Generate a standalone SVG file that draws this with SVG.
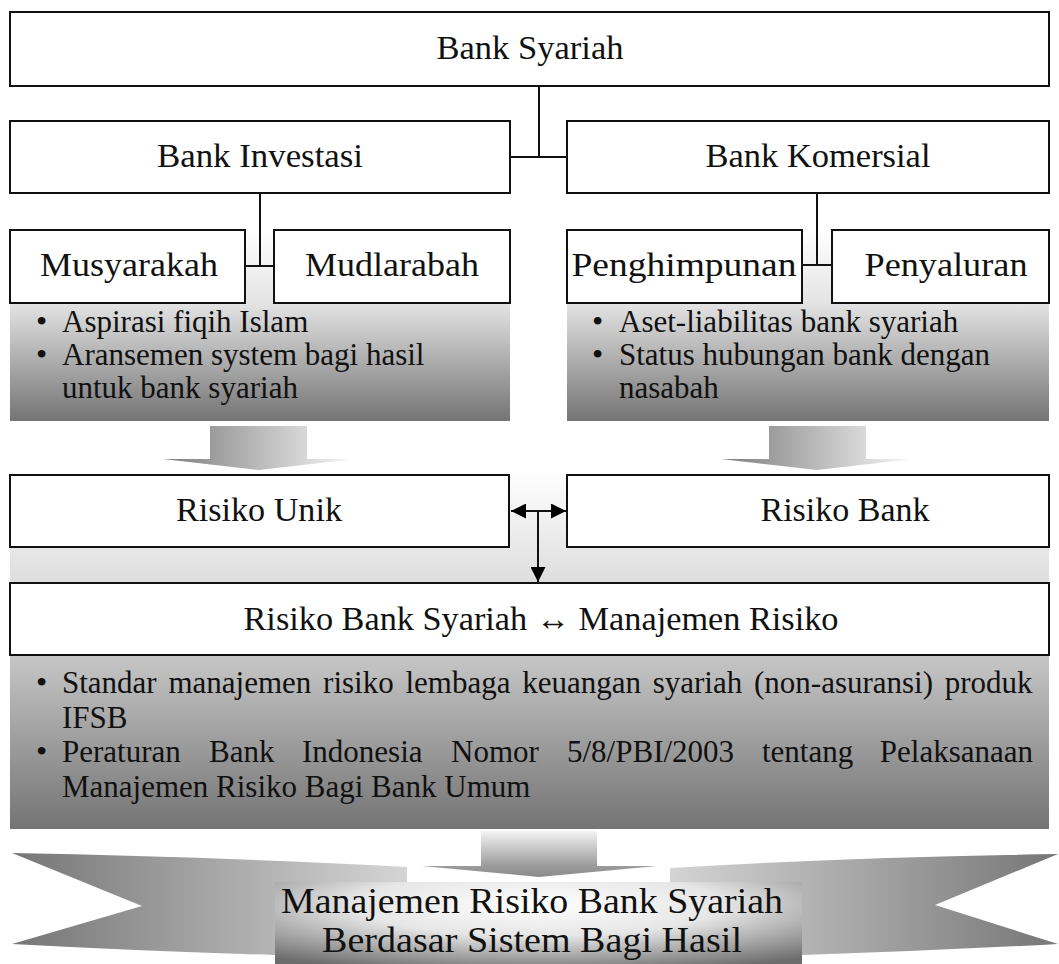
<svg xmlns="http://www.w3.org/2000/svg" width="1059" height="964" viewBox="0 0 1059 964">
<defs>
<style>
.box{fill:#fff;stroke:#111;stroke-width:2}
.lbl{font-family:"Liberation Serif","Times New Roman",serif;font-size:33px;fill:#111;text-anchor:middle}
.blt{font-family:"Liberation Serif","Times New Roman",serif;font-size:31px;fill:#111}
.dot{font-family:"Liberation Serif","Times New Roman",serif;font-size:32px;fill:#111}
.rib{font-family:"Liberation Serif","Times New Roman",serif;font-size:36px;fill:#111;text-anchor:middle}
.ln{stroke:#111;stroke-width:2;fill:none}
</style>
<linearGradient id="gSmall" x1="0" y1="0" x2="0" y2="1">
<stop offset="0" stop-color="#ffffff"/>
<stop offset="0.38" stop-color="#e4e4e4"/>
<stop offset="1" stop-color="#747474"/>
</linearGradient>
<linearGradient id="gBig" x1="0" y1="0" x2="0" y2="1">
<stop offset="0" stop-color="#ffffff"/>
<stop offset="0.5" stop-color="#c9c9c9"/>
<stop offset="1" stop-color="#747474"/>
</linearGradient>
<linearGradient id="gArrowH" x1="0" y1="0" x2="1" y2="0">
<stop offset="0" stop-color="#7d7d7d"/>
<stop offset="1" stop-color="#f7f7f7"/>
</linearGradient>
<linearGradient id="gArrowV" x1="0" y1="0" x2="0" y2="1">
<stop offset="0" stop-color="#f4f4f4"/>
<stop offset="0.75" stop-color="#9c9c9c"/>
<stop offset="1" stop-color="#8a8a8a"/>
</linearGradient>
<linearGradient id="gTailL" gradientUnits="userSpaceOnUse" x1="12" y1="0" x2="420" y2="0">
<stop offset="0" stop-color="#767676"/>
<stop offset="1" stop-color="#d8d8d8"/>
</linearGradient>
<linearGradient id="gTailR" gradientUnits="userSpaceOnUse" x1="1058" y1="0" x2="655" y2="0">
<stop offset="0" stop-color="#767676"/>
<stop offset="1" stop-color="#d8d8d8"/>
</linearGradient>
<radialGradient id="gPanel" cx="0.5" cy="0.25" r="0.78">
<stop offset="0" stop-color="#ffffff"/>
<stop offset="0.45" stop-color="#e6e6e6"/>
<stop offset="1" stop-color="#6c6c6c"/>
</radialGradient>
<marker id="ah" viewBox="0 0 10 10" refX="10" refY="5" markerWidth="16" markerHeight="15" markerUnits="userSpaceOnUse" orient="auto-start-reverse">
<path d="M0,0 L10,5 L0,10 Z" fill="#000"/>
</marker>
</defs>

<rect width="1059" height="964" fill="#fff"/>

<!-- background gradient panels -->
<g id="list-investasi">
<rect x="10" y="230" width="500" height="191" fill="url(#gSmall)"/>
<text class="dot" x="36" y="332">•</text><text class="blt" x="62" y="332">Aspirasi fiqih Islam</text>
<text class="dot" x="36" y="365">•</text><text class="blt" x="62" y="365">Aransemen system bagi hasil</text>
<text class="blt" x="62" y="398">untuk bank syariah</text>
</g>
<g id="list-komersial">
<rect x="567" y="230" width="482" height="191" fill="url(#gSmall)"/>
<text class="dot" x="592" y="332">•</text><text class="blt" x="619" y="332">Aset-liabilitas bank syariah</text>
<text class="dot" x="592" y="365">•</text><text class="blt" x="619" y="365">Status hubungan bank dengan</text>
<text class="blt" x="619" y="398">nasabah</text>
</g>
<g id="list-risiko">
<rect x="10" y="470" width="1039" height="359" fill="url(#gBig)"/>
<text class="dot" x="36" y="693">•</text><text class="blt" x="62" y="693" word-spacing="4">Standar manajemen risiko lembaga keuangan syariah (non-asuransi) produk</text>
<text class="blt" x="62" y="728">IFSB</text>
<text class="dot" x="36" y="762">•</text>
<text class="blt" y="762"><tspan x="62">Peraturan</tspan><tspan x="209">Bank</tspan><tspan x="302">Indonesia</tspan><tspan x="451">Nomor</tspan><tspan x="567">5/8/PBI/2003</tspan><tspan x="762">tentang</tspan><tspan x="1033" text-anchor="end">Pelaksanaan</tspan></text>
<text class="blt" x="62" y="797">Manajemen Risiko Bagi Bank Umum</text>
</g>

<!-- block arrows -->
<g id="arrow-left">
<path d="M210,426 H307 V459 H355 L259,470 L163,459 H210 Z" fill="url(#gArrowH)"/>
</g>
<g id="arrow-right">
<path d="M769,426 H866 V459 H913 L817,470 L721,459 H769 Z" fill="url(#gArrowH)"/>
</g>

<!-- ribbon -->
<g id="ribbon">
<path d="M12,853 Q220,857 407,867 L407,882 L275,882 L275,955 Q140,951 12,944 L142,906 Z" fill="url(#gTailL)"/>
<path d="M1058,854 Q850,857 670,868 L670,883 L802,883 L802,955 Q930,951 1058,944 L935,905 Z" fill="url(#gTailR)"/>
<rect x="275" y="882" width="527" height="90" fill="url(#gPanel)"/>
<text class="rib" x="532" y="913" textLength="502" lengthAdjust="spacingAndGlyphs">Manajemen Risiko Bank Syariah</text>
<text class="rib" x="532" y="952" textLength="420" lengthAdjust="spacingAndGlyphs">Berdasar Sistem Bagi Hasil</text>
</g>
<g id="arrow-bottom">
<path d="M481,831 H597 V866 H657 L539,877 L422,866 H481 Z" fill="url(#gArrowV)"/>
</g>

<!-- connectors -->
<g id="connectors">
<path class="ln" d="M539,86 V157 M510,157 H567"/>
<path class="ln" d="M260,193 V266 M245,266 H274"/>
<path class="ln" d="M817,193 V265 M802,265 H832"/>
<line class="ln" x1="511" y1="511" x2="566" y2="511" marker-start="url(#ah)" marker-end="url(#ah)"/>
<line class="ln" x1="538" y1="511" x2="538" y2="582" marker-end="url(#ah)"/>
</g>

<!-- nodes -->
<g id="bank-syariah">
<rect class="box" x="10" y="12" width="1039" height="74"/>
<text class="lbl" x="530" y="59" textLength="187" lengthAdjust="spacingAndGlyphs">Bank Syariah</text>
</g>
<g id="bank-investasi">
<rect class="box" x="10" y="121" width="500" height="72"/>
<text class="lbl" x="260" y="167" textLength="206" lengthAdjust="spacingAndGlyphs">Bank Investasi</text>
</g>
<g id="bank-komersial">
<rect class="box" x="567" y="121" width="482" height="72"/>
<text class="lbl" x="818" y="167" textLength="225" lengthAdjust="spacingAndGlyphs">Bank Komersial</text>
</g>
<g id="musyarakah">
<rect class="box" x="10" y="230" width="235" height="73"/>
<text class="lbl" x="129" y="276" textLength="178" lengthAdjust="spacingAndGlyphs">Musyarakah</text>
</g>
<g id="mudlarabah">
<rect class="box" x="274" y="230" width="236" height="73"/>
<text class="lbl" x="392" y="276" textLength="174" lengthAdjust="spacingAndGlyphs">Mudlarabah</text>
</g>
<g id="penghimpunan">
<rect class="box" x="567" y="230" width="235" height="73"/>
<text class="lbl" x="684" y="276" textLength="225" lengthAdjust="spacingAndGlyphs">Penghimpunan</text>
</g>
<g id="penyaluran">
<rect class="box" x="832" y="230" width="217" height="73"/>
<text class="lbl" x="946" y="276" textLength="163" lengthAdjust="spacingAndGlyphs">Penyaluran</text>
</g>
<g id="risiko-unik">
<rect class="box" x="10" y="475" width="499" height="72"/>
<text class="lbl" x="259" y="521" textLength="166" lengthAdjust="spacingAndGlyphs">Risiko Unik</text>
</g>
<g id="risiko-bank">
<rect class="box" x="567" y="475" width="482" height="72"/>
<text class="lbl" x="845" y="521" textLength="169" lengthAdjust="spacingAndGlyphs">Risiko Bank</text>
</g>
<g id="risiko-bank-syariah">
<rect class="box" x="10" y="583" width="1039" height="72"/>
<text class="lbl" x="541" y="630" textLength="595" lengthAdjust="spacingAndGlyphs">Risiko Bank Syariah ↔ Manajemen Risiko</text>
</g>
</svg>
